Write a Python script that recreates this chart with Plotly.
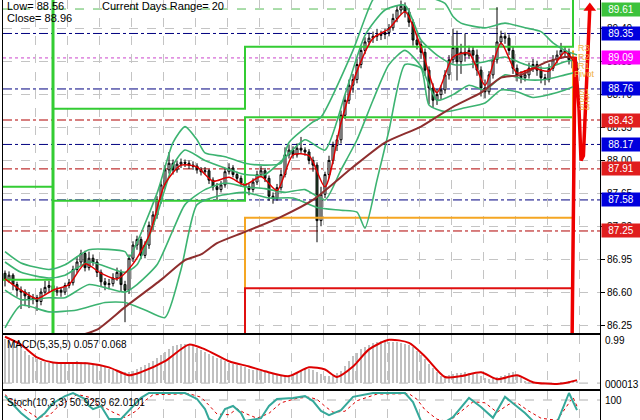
import plotly.graph_objects as go

# ---------------- DATA ----------------
bars = list(range(144))
opens = [86.80,86.73,86.78,86.68,86.62,86.60,86.56,86.52,86.54,86.50,
         86.60,86.65,86.67,86.60,86.62,86.60,86.67,86.70,86.84,86.92,
         87.01,86.86,86.96,86.92,86.81,86.71,86.68,86.69,86.75,86.81,
         86.68,86.62,86.96,87.10,87.16,86.99,87.10,87.31,87.42,87.58,
         87.74,87.90,87.97,87.90,87.96,87.98,87.97,87.95,87.94,87.90,
         87.88,87.89,87.79,87.72,87.69,87.74,87.88,87.92,87.85,87.81,
         87.76,87.72,87.69,87.77,87.85,87.89,87.81,87.62,87.60,87.71,
         87.85,88.06,88.11,88.06,88.13,88.11,88.09,88.00,87.95,87.36,
         87.64,87.85,88.00,88.16,88.22,88.48,88.64,88.80,88.86,89.02,
         89.17,89.26,89.30,89.32,89.33,89.34,89.36,89.41,89.51,89.60,
         89.64,89.58,89.47,89.28,89.23,89.15,88.96,88.77,88.64,88.70,
         88.75,88.91,89.07,89.20,89.05,89.15,89.12,89.17,89.12,88.96,
         88.77,88.73,88.91,89.07,89.26,89.32,89.30,89.17,88.98,88.90,
         88.88,88.91,88.98,89.02,88.96,88.88,88.86,88.98,89.07,89.12,
         89.17,89.15,89.07,88.98]
highs = [86.83,86.82,86.80,86.71,86.66,86.63,86.60,86.58,86.57,86.64,
         86.72,86.72,86.70,86.66,86.65,86.70,86.74,86.88,86.98,87.05,
         87.04,87.03,87.00,86.95,86.84,86.75,86.74,86.80,86.86,86.84,
         86.72,87.00,87.14,87.20,87.19,87.14,87.35,87.46,87.62,87.78,
         87.95,88.09,88.01,88.00,88.02,88.01,88.00,87.99,87.97,87.93,
         87.93,87.91,87.82,87.76,87.78,87.92,87.97,87.95,87.88,87.84,
         87.79,87.75,87.81,87.89,87.94,87.92,87.84,87.66,87.75,87.90,
         88.14,88.17,88.15,88.18,88.25,88.14,88.12,88.04,87.98,87.72,
         87.88,88.05,88.20,88.27,88.53,88.70,88.86,88.92,89.08,89.22,
         89.31,89.36,89.37,89.40,89.38,89.40,89.45,89.56,89.65,89.70,
         89.68,89.62,89.50,89.35,89.27,89.19,89.00,88.82,88.76,88.80,
         88.96,89.12,89.40,89.38,89.24,89.35,89.22,89.21,89.18,89.00,
         88.86,88.95,89.12,89.63,89.38,89.36,89.34,89.21,89.02,88.95,
         88.96,89.04,89.08,89.06,89.00,88.92,89.03,89.12,89.17,89.25,
         89.21,89.19,89.11,89.05]
lows = [86.66,86.70,86.62,86.55,86.42,86.45,86.43,86.47,86.40,86.46,
        86.57,86.60,86.52,86.56,86.55,86.57,86.64,86.67,86.80,86.88,
        86.82,86.83,86.88,86.76,86.66,86.62,86.63,86.66,86.72,86.60,
        86.28,86.58,86.92,87.05,86.95,86.96,87.06,87.26,87.38,87.54,
        87.70,87.86,87.85,87.87,87.92,87.93,87.91,87.90,87.86,87.84,
        87.85,87.75,87.68,87.58,87.66,87.71,87.85,87.82,87.77,87.72,
        87.68,87.63,87.66,87.74,87.82,87.77,87.57,87.54,87.57,87.68,
        87.82,88.02,88.02,88.03,88.08,88.05,87.96,87.88,87.13,87.30,
        87.60,87.81,87.96,88.10,88.18,88.44,88.60,88.72,88.82,88.98,
        89.13,89.22,89.25,89.27,89.28,89.29,89.32,89.38,89.47,89.55,
        89.52,89.42,89.22,89.18,89.08,88.90,88.60,88.56,88.59,88.65,
        88.71,88.86,89.03,88.85,88.92,89.05,89.08,88.98,88.90,88.68,
        88.66,88.70,88.87,89.03,89.22,89.24,89.12,88.92,88.84,88.82,
        88.84,88.87,88.94,88.90,88.82,88.80,88.83,88.95,89.03,89.08,
        89.10,89.02,88.92,88.90]
closes = [86.73,86.78,86.68,86.62,86.60,86.56,86.52,86.54,86.50,86.60,
          86.65,86.67,86.60,86.62,86.60,86.67,86.70,86.84,86.92,87.01,
          86.86,86.96,86.92,86.81,86.71,86.68,86.69,86.75,86.81,86.68,
          86.62,86.96,87.10,87.16,86.99,87.10,87.31,87.42,87.58,87.74,
          87.90,87.97,87.90,87.96,87.98,87.97,87.95,87.94,87.90,87.88,
          87.89,87.79,87.72,87.69,87.74,87.88,87.92,87.85,87.81,87.76,
          87.72,87.69,87.77,87.85,87.89,87.81,87.62,87.60,87.71,87.85,
          88.06,88.11,88.06,88.13,88.11,88.09,88.00,87.95,87.36,87.64,
          87.85,88.00,88.16,88.22,88.48,88.64,88.80,88.86,89.02,89.17,
          89.26,89.30,89.32,89.33,89.34,89.36,89.41,89.51,89.60,89.64,
          89.58,89.47,89.28,89.23,89.15,88.96,88.77,88.64,88.70,88.75,
          88.91,89.07,89.20,89.05,89.15,89.12,89.17,89.12,88.96,88.77,
          88.73,88.91,89.07,89.26,89.32,89.30,89.17,88.98,88.90,88.88,
          88.91,88.98,89.02,88.96,88.88,88.86,88.98,89.07,89.12,89.17,
          89.15,89.07,88.98,88.96]

# Bollinger-type envelopes (read at sample bars)
bb_up2_idx = [0,4,11,15,21,30,31,38,42,45,48,50,55,60,65,69,71,77,79,87,92,95,104,110,112,114,120,125,130,134,137,140,143]
bb_up2 = [87.03,86.91,86.84,86.89,87.05,87.03,86.97,87.65,88.19,88.36,88.22,88.08,88.04,87.97,87.95,87.97,88.19,88.41,88.46,89.17,89.71,89.81,89.76,89.67,89.53,89.46,89.41,89.46,89.41,89.37,89.25,89.17,89.12]
bb_up1_idx = [0,4,11,15,21,30,33,38,42,45,50,55,60,65,70,75,80,85,90,95,100,104,108,112,116,120,125,130,135,140,143]
bb_up1 = [86.92,86.81,86.75,86.78,86.92,86.81,86.89,87.42,87.95,88.11,88.00,87.92,87.85,87.85,88.03,88.22,88.11,88.70,89.33,89.60,89.65,89.28,89.12,89.02,89.02,89.05,89.10,89.02,88.98,89.05,89.07]
bb_lo1_idx = [0,4,11,15,21,30,33,38,42,45,50,55,60,65,70,75,80,84,88,92,96,100,104,108,112,116,120,125,130,135,140,143]
bb_lo1 = [86.62,86.52,86.54,86.54,86.68,86.60,86.68,86.89,87.26,87.53,87.69,87.76,87.72,87.70,87.66,87.69,87.58,87.90,88.22,88.64,89.02,89.17,89.00,88.64,88.70,88.80,88.75,88.91,88.86,88.86,88.91,88.94]
bb_lo2_idx = [0,4,11,18,25,30,35,40,44,48,53,60,66,72,78,84,88,90,93,96,100,104,106,110,115,120,124,128,132,136,140,143]
bb_lo2 = [86.22,86.46,86.39,86.41,86.49,86.49,86.41,86.33,86.84,87.53,87.62,87.66,87.60,87.60,87.50,87.47,87.45,87.28,87.79,88.32,89.02,88.98,88.59,88.52,88.56,88.61,88.75,88.73,88.67,88.70,88.75,88.80]

ma_fast_idx = [0,4,8,12,16,20,24,28,32,36,40,44,48,52,56,60,64,68,72,76,80,84,88,92,96,100,104,108,112,116,120,124,128,132,136,140,143]
ma_fast = [86.74,86.62,86.53,86.62,86.68,86.90,86.80,86.74,86.90,87.20,87.75,87.95,87.93,87.78,87.82,87.74,87.83,87.68,88.06,88.05,87.72,88.40,88.95,89.30,89.40,89.58,89.20,88.72,89.10,89.14,88.80,89.25,88.93,88.98,88.95,89.15,89.00]
ma_slow_idx = [18,23,30,39,45,49,53,60,69,77,87,95,104,112,119,124,129,135,140,143]
ma_slow = [86.13,86.20,86.44,86.73,86.94,87.00,87.12,87.24,87.40,87.58,87.93,88.19,88.36,88.57,88.72,88.88,88.91,89.04,89.10,89.09]

# Horizontal levels drawn across the chart
level_values = [89.61, 89.35, 89.09, 88.76, 88.43, 88.17, 87.91, 87.58, 87.25]
level_kinds = ["green", "blue", "magenta", "blue", "red", "blue", "red", "blue", "red"]

# Daily pivot steps (bar index of day change, level values)
day_breaks = [12, 60, 142]
piv_upper = [87.72, 88.55, 89.21]
piv_mid = [86.73, 87.57, 88.46]
sup_orange = 87.39
sup_red = 86.64
orange_top = 89.17

# Forecast arrow (bar index, price)
fc_x = [141.75, 142.5, 143.5, 144.0, 144.6, 145.4, 146.2]
fc_y = [86.0, 89.10, 88.55, 88.00, 88.05, 88.95, 89.62]
pivot_labels = ["R3", "R2", "R1", "Pivot", "S1", "S2", "S3"]
pivot_label_y = [89.20, 89.10, 89.00, 88.92, 88.73, 88.65, 88.57]

# MACD
macd_hist = [1.00,0.98,0.95,0.88,0.81,0.73,0.65,0.60,0.54,0.51,
             0.49,0.47,0.47,0.46,0.47,0.47,0.48,0.49,0.50,0.49,
             0.48,0.47,0.44,0.41,0.39,0.36,0.33,0.30,0.27,0.26,
             0.25,0.25,0.28,0.32,0.36,0.41,0.45,0.50,0.58,0.65,
             0.72,0.78,0.84,0.88,0.89,0.89,0.88,0.85,0.81,0.76,
             0.72,0.67,0.62,0.58,0.54,0.50,0.47,0.44,0.41,0.38,
             0.36,0.33,0.31,0.29,0.27,0.25,0.23,0.21,0.20,0.18,
             0.17,0.16,0.21,0.26,0.31,0.32,0.32,0.31,0.26,0.21,
             0.17,0.16,0.19,0.23,0.27,0.38,0.50,0.61,0.69,0.77,
             0.83,0.87,0.91,0.95,0.96,0.96,0.95,0.94,0.93,0.92,
             0.90,0.87,0.83,0.74,0.64,0.54,0.44,0.34,0.25,0.16,
             0.17,0.18,0.20,0.22,0.23,0.25,0.23,0.22,0.20,0.16,
             0.12,0.09,0.12,0.14,0.16,0.19,0.22,0.25,0.18,0.11,
             0.05,0.03,0.01,-0.02,-0.02,-0.02,-0.02,-0.02,-0.01,0.01,
             0.03,0.05,0.055,0.057]
macd_sig_idx = [0,4,8,12,21,26,31,34,40,46,50,56,61,65,71,76,80,83,87,91,96,101,105,110,114,119,123,128,132,138,141,143]
macd_sig = [1.06,0.88,0.59,0.47,0.45,0.36,0.18,0.25,0.50,0.88,0.77,0.50,0.38,0.27,0.16,0.36,0.31,0.14,0.38,0.77,0.99,0.92,0.61,0.14,0.16,0.25,0.09,0.18,0.02,-0.02,0.02,0.068]

# Stochastic
stoch_k_idx = [0,4,7,10,12,15,17,20,21,22,24,26,29,32,34,36,45,48,50,51,53,55,57,59,60,64,66,68,72,75,77,79,81,84,87,92,100,102,104,109,112,116,119,122,125,130,132,138,141,143]
stoch_k = [91,43,15,43,71,91,100,83,63,54,63,26,26,63,86,100,100,83,54,26,15,54,63,43,20,28,63,83,86,91,77,49,37,51,89,100,100,74,20,10,31,86,60,29,89,43,20,15,100,51]
stoch_d_idx = [0,4,8,11,13,16,18,21,23,25,27,30,33,35,37,46,49,51,53,56,58,60,63,66,69,73,76,78,80,82,85,88,93,101,103,105,108,111,113,117,120,123,126,128,131,134,138,140,142,143]
stoch_d = [95,60,30,35,58,82,96,88,68,58,45,30,50,78,95,98,88,65,40,38,55,42,28,42,72,85,88,82,62,45,48,78,97,98,82,52,25,18,38,75,72,45,68,72,48,28,22,55,88,62]

price_ticks = [86.25, 86.60, 86.95, 87.30, 87.65, 88.00, 88.35, 88.70, 89.05, 89.40]
grid_bars = [7.5 + 8 * k for k in range(18)]

# ---------------- STYLE ----------------
W, H = 640, 420
ML, MR = 3, 40
PW = W - ML - MR
FONT = "Liberation Sans, Arial, sans-serif"
TEAL = "#3CB371"
PIV_GREEN = "#33CC33"
kind_line = {"green": ("#55BB55", "dash"), "blue": ("#000080", "dashdot"),
             "magenta": ("#CC44CC", "dot"), "red": ("#B00000", "dashdot")}
kind_bg = {"green": "#3CC23C", "blue": "#0000DD", "magenta": "#FF00FF", "red": "#E01E1E"}


def px_x(px):
    return (px - ML) / PW


def px_y(py):
    return 1 - py / H


XR = [-0.5, (W - MR - ML) / 4.0 - 0.5]

fig = go.Figure()

# levels (shapes)
shapes = []
for v, k in zip(level_values, level_kinds):
    c, d = kind_line[k]
    shapes.append(dict(type="line", xref="paper", x0=0, x1=1, yref="y", y0=v, y1=v,
                       line=dict(color=c, width=1, dash=d), layer="below"))
# MACD zero and Stoch 80 dashed
shapes.append(dict(type="line", xref="paper", x0=0, x1=1, yref="y2", y0=0, y1=0,
                   line=dict(color="#B0B0B0", width=1, dash="dash"), layer="below"))
shapes.append(dict(type="line", xref="paper", x0=0, x1=1, yref="y3", y0=80, y1=80,
                   line=dict(color="#B0B0B0", width=1, dash="dash"), layer="below"))

# pivot step lines
b0, b1, b2 = day_breaks
fig.add_trace(go.Scatter(x=[XR[0], b0, b0, b1, b1, b2, b2],
                         y=[piv_upper[0], piv_upper[0], piv_upper[1], piv_upper[1], piv_upper[2], piv_upper[2], 90.2],
                         mode="lines", line=dict(color=PIV_GREEN, width=2), hoverinfo="skip"))
fig.add_trace(go.Scatter(x=[XR[0], b0, b0, b1, b1, b2],
                         y=[piv_mid[0], piv_mid[0], piv_mid[1], piv_mid[1], piv_mid[2], piv_mid[2]],
                         mode="lines", line=dict(color=PIV_GREEN, width=2), hoverinfo="skip"))
fig.add_trace(go.Scatter(x=[b0, b0], y=[85.8, 90.2], mode="lines",
                         line=dict(color=PIV_GREEN, width=3), hoverinfo="skip"))
fig.add_trace(go.Scatter(x=[b1, b1, b2, b2], y=[85.8, sup_orange, sup_orange, orange_top], mode="lines",
                         line=dict(color="#F5A623", width=2), hoverinfo="skip"))
fig.add_trace(go.Scatter(x=[b1, b1, b2], y=[85.8, sup_red, sup_red], mode="lines",
                         line=dict(color="#E01010", width=2), hoverinfo="skip"))

# envelopes
for ix, vals in [(bb_up2_idx, bb_up2), (bb_up1_idx, bb_up1), (bb_lo1_idx, bb_lo1), (bb_lo2_idx, bb_lo2)]:
    fig.add_trace(go.Scatter(x=ix, y=vals, mode="lines", line=dict(color=TEAL, width=1.6, shape="spline", smoothing=0.6),
                             hoverinfo="skip"))

fig.add_trace(go.Scatter(x=ma_slow_idx, y=ma_slow, mode="lines",
                         line=dict(color="#8E2E2E", width=2, shape="spline", smoothing=0.6), hoverinfo="skip"))

# candles
fig.add_trace(go.Candlestick(x=bars, open=opens, high=highs, low=lows, close=closes,
                             increasing=dict(line=dict(color="#000000", width=1), fillcolor="#FFFFFF"),
                             decreasing=dict(line=dict(color="#000000", width=1), fillcolor="#2B5533"),
                             whiskerwidth=0, hoverinfo="skip"))

fig.add_trace(go.Scatter(x=ma_fast_idx, y=ma_fast, mode="lines",
                         line=dict(color="#DD0000", width=1.5, shape="spline", smoothing=0.7), hoverinfo="skip"))

# forecast arrow
fig.add_trace(go.Scatter(x=fc_x, y=fc_y, mode="lines", line=dict(color="#EE0000", width=3.5), hoverinfo="skip"))
fig.add_trace(go.Scatter(x=[fc_x[-1]], y=[fc_y[-1]], mode="markers",
                         marker=dict(symbol="triangle-up", size=11, color="#EE0000"), hoverinfo="skip"))

# MACD
fig.add_trace(go.Bar(x=bars, y=macd_hist, marker=dict(color="#C0C0C0", line=dict(width=0)), width=0.55,
                     xaxis="x2", yaxis="y2", hoverinfo="skip"))
fig.add_trace(go.Scatter(x=macd_sig_idx, y=macd_sig, mode="lines", xaxis="x2", yaxis="y2",
                         line=dict(color="#DD0000", width=2, shape="spline", smoothing=0.7), hoverinfo="skip"))

# Stochastic
fig.add_trace(go.Scatter(x=stoch_d_idx, y=stoch_d, mode="lines", xaxis="x3", yaxis="y3",
                         line=dict(color="#DD0000", width=1, dash="dot"), hoverinfo="skip"))
fig.add_trace(go.Scatter(x=stoch_k_idx, y=stoch_k, mode="lines", xaxis="x3", yaxis="y3",
                         line=dict(color="#35A89A", width=2), hoverinfo="skip"))

axis_common = dict(showline=True, mirror=True, linecolor="black", linewidth=1, automargin=False,
                   showgrid=True, gridcolor="#C4C4C4", griddash="dash", gridwidth=1, zeroline=False)

fig.update_layout(
    template="none",
    width=W, height=H, margin=dict(l=ML, r=MR, t=0, b=0, pad=0, autoexpand=False),
    paper_bgcolor="white", plot_bgcolor="white", showlegend=False,
    font=dict(family=FONT, size=10, color="black"),
    shapes=shapes, bargap=0,
    xaxis=dict(domain=[0, 1], range=XR, tickvals=grid_bars, showticklabels=False, ticks="",
               rangeslider=dict(visible=False), anchor="y", **axis_common),
    yaxis=dict(domain=[px_y(333), 1], range=[86.165, 89.706], side="right", tickvals=price_ticks,
               ticktext=[f"{v:.2f}" for v in price_ticks], ticks="outside", ticklen=4, tickcolor="black",
               tickfont=dict(size=10, family=FONT, color="black"), anchor="x", **axis_common),
    xaxis2=dict(domain=[0, 1], range=XR, tickvals=grid_bars, showticklabels=False, ticks="",
                anchor="y2", **axis_common),
    yaxis2=dict(domain=[px_y(389), px_y(335)], range=[-0.135, 1.10], side="right", showticklabels=False,
                ticks="", anchor="x2", **{**axis_common, "showgrid": False}),
    xaxis3=dict(domain=[0, 1], range=XR, tickvals=grid_bars, showticklabels=False, ticks="",
                anchor="y3", **axis_common),
    yaxis3=dict(domain=[0, px_y(391)], range=[22.9, 105.7], side="right", showticklabels=False,
                ticks="", anchor="x3", **{**axis_common, "showgrid": False}),
)

ann = []
# header texts
for txt, xp, yp in [("Low= 88.56", 5, 6), ("Current Days Range= 20", 100, 6), ("Close= 88.96", 5, 18)]:
    ann.append(dict(text=txt, xref="paper", yref="paper", x=px_x(xp), y=px_y(yp), xanchor="left",
                    yanchor="middle", showarrow=False, font=dict(size=11, family=FONT, color="black")))
# level labels on the price scale
for v, k in zip(level_values, level_kinds):
    ann.append(dict(text=f"{v:.2f}", xref="paper", yref="y", x=1, y=v, xanchor="left", yanchor="middle",
                    xshift=1, showarrow=False, bgcolor=kind_bg[k], width=36, height=11, borderpad=1,
                    font=dict(size=10, family=FONT, color="white")))
# pivot labels
for t, v in zip(pivot_labels, pivot_label_y):
    ann.append(dict(text=t, xref="x", yref="y", x=144.8, y=v, xanchor="center", yanchor="middle",
                    showarrow=False, font=dict(size=9, family=FONT, color="#F0B040")))
# panel titles and scale labels
ann.append(dict(text="MACD(5,35,5) 0.057 0.068", xref="paper", yref="paper", x=px_x(5), y=px_y(344),
                xanchor="left", yanchor="middle", showarrow=False, font=dict(size=10, family=FONT)))
ann.append(dict(text="Stoch(10,3,3) 50.9259 62.0101", xref="paper", yref="paper", x=px_x(5), y=px_y(402),
                xanchor="left", yanchor="middle", showarrow=False, font=dict(size=10, family=FONT)))
for t, yp in [("0.99", 340), ("000013", 384), ("100", 400)]:
    ann.append(dict(text=t, xref="paper", yref="paper", x=1, y=px_y(yp), xanchor="left", yanchor="middle",
                    xshift=3, showarrow=False, font=dict(size=10, family=FONT)))
fig.update_layout(annotations=ann)

fig.write_html("out.html", config={"displayModeBar": False},
               post_script="document.body.style.margin='0';document.body.style.overflow='hidden';")
